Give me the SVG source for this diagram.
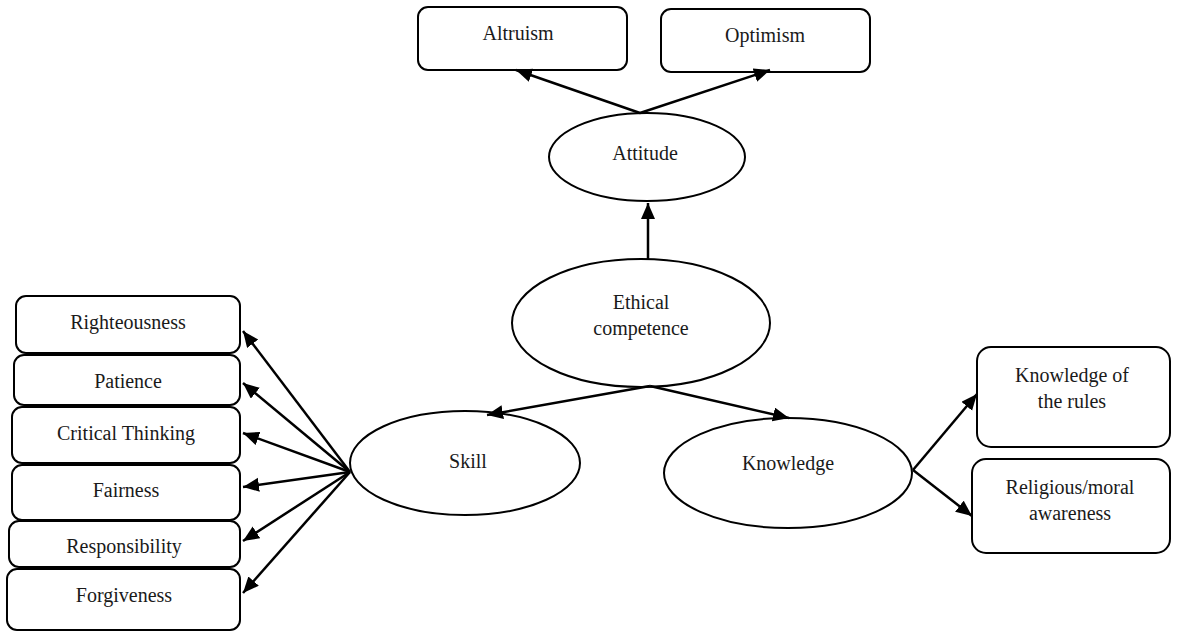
<svg xmlns="http://www.w3.org/2000/svg" width="1179" height="631" viewBox="0 0 1179 631">
<style>
.box{fill:#fff;stroke:#000;stroke-width:2}
.ell{fill:#fff;stroke:#000;stroke-width:2}
.t text{font-size:20px;fill:#1a1a1a;text-anchor:middle;dominant-baseline:central}
.conn line{stroke:#000;stroke-width:2.5;marker-end:url(#arr)}
</style>
<defs>
<marker id="arr" markerUnits="userSpaceOnUse" markerWidth="18" markerHeight="15" refX="16" refY="7" orient="auto">
<path d="M0,0 L16,7 L0,14 z" fill="#000"/>
</marker>
</defs>
<rect width="1179" height="631" fill="#fff"/>
<g class="t" font-family="'Liberation Serif', 'DejaVu Serif', 'Times New Roman', serif">
<g id="altruism"><rect class="box" x="418" y="7" width="209" height="63" rx="10"/><text x="518" y="33">Altruism</text></g>
<g id="optimism"><rect class="box" x="661" y="9" width="209" height="63" rx="10"/><text x="765" y="35">Optimism</text></g>
<g id="attitude"><ellipse class="ell" cx="647" cy="157" rx="98" ry="44"/><text x="645" y="153">Attitude</text></g>
<g id="ethical"><ellipse class="ell" cx="641" cy="323" rx="129" ry="64"/><text x="641" y="302">Ethical</text><text x="641" y="328">competence</text></g>
<g id="skill"><ellipse class="ell" cx="465" cy="463" rx="115" ry="52"/><text x="468" y="461">Skill</text></g>
<g id="knowledge"><ellipse class="ell" cx="788" cy="473" rx="124" ry="55"/><text x="788" y="463">Knowledge</text></g>
<g id="rules"><rect class="box" x="977" y="347" width="193" height="100" rx="14"/><text x="1072" y="375">Knowledge of</text><text x="1072" y="401">the rules</text></g>
<g id="religious"><rect class="box" x="972" y="459" width="198" height="94" rx="14"/><text x="1070" y="487">Religious/moral</text><text x="1070" y="513">awareness</text></g>
<g id="righteousness"><rect class="box" x="16" y="296" width="224" height="57" rx="10"/><text x="128" y="322">Righteousness</text></g>
<g id="patience"><rect class="box" x="14" y="355" width="226" height="50" rx="10"/><text x="128" y="381">Patience</text></g>
<g id="critical"><rect class="box" x="12" y="407" width="228" height="56" rx="10"/><text x="126" y="433">Critical Thinking</text></g>
<g id="fairness"><rect class="box" x="12" y="465" width="228" height="55" rx="10"/><text x="126" y="490">Fairness</text></g>
<g id="responsibility"><rect class="box" x="9" y="521" width="231" height="46" rx="10"/><text x="124" y="546">Responsibility</text></g>
<g id="forgiveness"><rect class="box" x="7" y="569" width="233" height="61" rx="10"/><text x="124" y="595">Forgiveness</text></g>
</g>
<g class="conn" id="connectors">
<line x1="640" y1="113" x2="516" y2="70"/>
<line x1="640" y1="113" x2="770" y2="70"/>
<line x1="648" y1="259" x2="648" y2="203"/>
<line x1="650" y1="386" x2="487" y2="415"/>
<line x1="650" y1="386" x2="789" y2="418"/>
<line x1="350" y1="472" x2="243" y2="331"/>
<line x1="350" y1="472" x2="243" y2="383"/>
<line x1="350" y1="472" x2="243" y2="433"/>
<line x1="350" y1="472" x2="243" y2="487"/>
<line x1="350" y1="472" x2="243" y2="541"/>
<line x1="350" y1="472" x2="243" y2="593"/>
<line x1="913" y1="470" x2="977" y2="394"/>
<line x1="913" y1="470" x2="972" y2="516"/>
</g>
</svg>
